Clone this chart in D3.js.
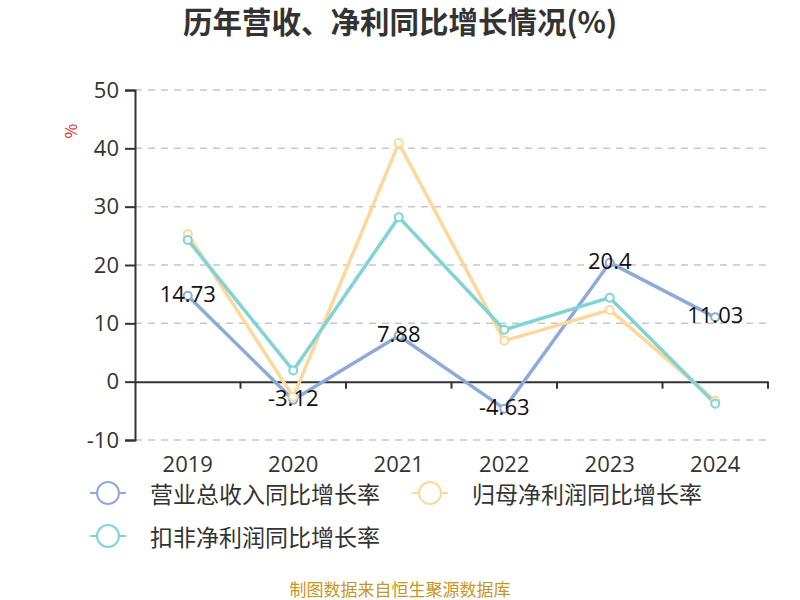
<!DOCTYPE html>
<html><head><meta charset="utf-8">
<script src="https://cdn.jsdelivr.net/npm/d3@7"></script>
<style>body{margin:0;background:#fff}svg{display:block;font-family:"Noto Sans CJK SC","Noto Sans",sans-serif}</style>
</head><body>
<svg id="c" width="800" height="600"></svg>
<script>
const categories = ["2019","2020","2021","2022","2023","2024"];
const revenueGrowth = [14.73, -3.12, 7.88, -4.63, 20.4, 11.03];
const parentProfitGrowth = [25.3, -2.6, 40.9, 7.0, 12.3, -3.3];
const deductedProfitGrowth = [24.3, 1.9, 28.2, 8.9, 14.4, -3.8];
const seriesNames = ["营业总收入同比增长率","归母净利润同比增长率","扣非净利润同比增长率"];
const yTicks = [-10,0,10,20,30,40,50];

const colors = ["#8eaadc","#ffd899","#80d4d6"];
const numFont = "'Open Sans','Noto Sans',sans-serif";
const svg = d3.select("#c");
const L=135, R=768, T=90, B=440;
const x = d3.scaleBand().domain(categories).range([L,R]);
const y = d3.scaleLinear().domain([-10,50]).range([B,T]);

svg.append("text").attr("x",400).attr("y",33).attr("text-anchor","middle")
  .attr("font-size",29.5).attr("font-weight","bold").attr("fill","#333").text("历年营收、净利同比增长情况(%)");

// grid
svg.append("g").selectAll("line").data(yTicks.filter(d=>d!==0)).join("line")
  .attr("x1",L).attr("x2",R).attr("y1",d=>y(d)).attr("y2",d=>y(d))
  .attr("stroke","#c8c8c8").attr("stroke-width",1.5).attr("stroke-dasharray","7,6");

// y axis
const ya = svg.append("g").attr("transform",`translate(${L},0)`)
  .call(d3.axisLeft(y).tickValues(yTicks).tickFormat(d=>String(d)).tickSize(10).tickPadding(6));
ya.select(".domain").attr("stroke","#333").attr("stroke-width",2);
ya.selectAll(".tick line").attr("stroke","#333").attr("stroke-width",2);
ya.selectAll("text").attr("font-size",22).attr("fill","#333").attr("font-family",numFont);

// x axis at zero
const xa = svg.append("g").attr("transform",`translate(0,${y(0)})`)
  .call(d3.axisBottom(x).tickSize(0).tickFormat(""));
xa.select(".domain").attr("stroke","#333").attr("stroke-width",2);
const bounds = categories.map(c=>x(c)).concat([R]).slice(1);
svg.append("g").selectAll("line").data(bounds).join("line")
  .attr("x1",d=>d).attr("x2",d=>d).attr("y1",y(0)).attr("y2",y(0)+7)
  .attr("stroke","#333").attr("stroke-width",2);
svg.append("g").selectAll("text").data(categories).join("text")
  .attr("x",d=>x(d)+x.bandwidth()/2).attr("y",472).attr("text-anchor","middle")
  .attr("font-size",22).attr("fill","#333").attr("font-family",numFont).text(d=>d);

// unit
svg.append("text").attr("transform","translate(77,131) rotate(-90)").attr("text-anchor","middle")
  .attr("font-size",16).attr("fill","#e02020").text("%");

const data = [revenueGrowth, parentProfitGrowth, deductedProfitGrowth];
const line = d3.line().x((d,i)=>x(categories[i])+x.bandwidth()/2).y(d=>y(d));
[0,1,2].forEach(k=>{
  svg.append("path").datum(data[k]).attr("d",line).attr("fill","none")
    .attr("stroke",colors[k]).attr("stroke-width",3.5).attr("stroke-linejoin","round");
});
[0,1,2].forEach(k=>{
  svg.append("g").selectAll("circle").data(data[k]).join("circle")
    .attr("cx",(d,i)=>x(categories[i])+x.bandwidth()/2).attr("cy",d=>y(d)).attr("r",4)
    .attr("fill","#fff").attr("stroke",colors[k]).attr("stroke-width",2);
});
svg.append("g").selectAll("text").data(revenueGrowth).join("text")
  .attr("x",(d,i)=>x(categories[i])+x.bandwidth()/2).attr("y",d=>y(d)+6)
  .attr("text-anchor","middle").attr("font-size",22).attr("fill","#111")
  .attr("font-family",numFont).text(d=>String(d));

// legend
const legPos = [[90,493],[412,493],[90,536]];
seriesNames.forEach((n,k)=>{
  const g = svg.append("g").attr("transform",`translate(${legPos[k][0]},${legPos[k][1]})`);
  g.append("line").attr("x1",0).attr("x2",36).attr("stroke",colors[k]).attr("stroke-width",2);
  g.append("circle").attr("cx",18).attr("r",11).attr("fill","#fff").attr("stroke",colors[k]).attr("stroke-width",2);
  g.append("text").attr("x",60).attr("y",0).attr("dominant-baseline","central")
    .attr("font-size",23).attr("fill","#333").text(n);
});

svg.append("text").attr("x",400).attr("y",596).attr("text-anchor","middle")
  .attr("font-size",17).attr("fill","#c8961e").text("制图数据来自恒生聚源数据库");
</script>
</body></html>
